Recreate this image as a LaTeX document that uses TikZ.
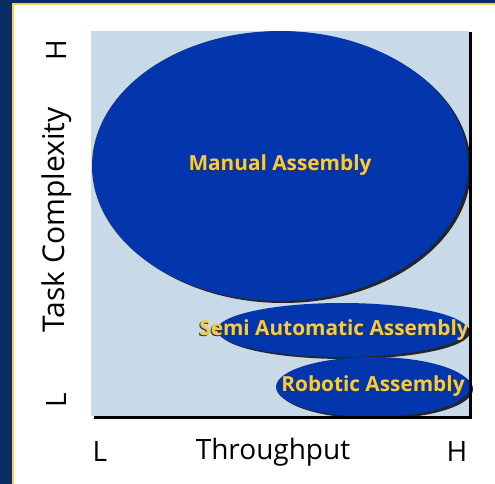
\documentclass[tikz,border=0pt]{standalone}
\usepackage{fontspec}
\setmainfont{Open Sans}
\usetikzlibrary{shapes.geometric}
\definecolor{navy}{HTML}{0B2D66}
\definecolor{panelyellow}{HTML}{F2D15A}
\definecolor{plotbg}{HTML}{C8D9E7}
\definecolor{blob}{HTML}{0335AD}
\definecolor{labelyellow}{HTML}{F3CB4A}
\tikzset{
  blobshape/.style={ellipse, fill=blob, inner sep=0pt, draw=none},
  blobshadow/.style={ellipse, fill=black!85, inner sep=0pt, draw=none},
  blobtext/.style={text=labelyellow, font=\fontsize{20.8}{24}\selectfont\bfseries, inner sep=0pt},
  blobtextshadow/.style={text=black!80, font=\fontsize{20.8}{24}\selectfont\bfseries, inner sep=0pt},
  axistext/.style={text=black, font=\fontsize{28}{32}\selectfont, inner sep=0pt},
  axistextlong/.style={text=black, font=\fontsize{30}{34}\selectfont, inner sep=0pt},
  axisline/.style={draw=black, line width=3pt}
}
\begin{document}
\begin{tikzpicture}[x=1pt,y=-1pt]
\useasboundingbox (0,0) rectangle (495,484);
% outer background
\fill[navy] (0,0) rectangle (495,484);
\fill[panelyellow] (11.5,3) rectangle (495,484);
\fill[white] (13.5,5.5) rectangle (495,484);
% plot area
\fill[plotbg] (91,31) rectangle (469,416);
% ellipses with shadows
\node[blobshadow, minimum width=376pt, minimum height=270pt] (manshadow) at (283,168) {};
\node[blobshape, minimum width=376pt, minimum height=270pt] (manual) at (280,166) {};
\node[blobshadow, minimum width=250pt, minimum height=54pt] (semishadow) at (345,332) {};
\node[blobshape, minimum width=250pt, minimum height=54pt] (semi) at (342,330) {};
\node[blobshadow, minimum width=194pt, minimum height=60pt] (robshadow) at (376,389) {};
\node[blobshape, minimum width=194pt, minimum height=60pt] (robotic) at (373,387) {};
% axes
\draw[axisline] (470.5,32) -- (470.5,418.5);
\draw[axisline] (94,417.5) -- (472,417.5);
% labels in ellipses
\node[blobtextshadow] (manualts) at (279,166) {Manual Assembly};
\node[blobtext] (manualt) at (280,165) {Manual Assembly};
\node[blobtextshadow] (semits) at (333,331) {Semi Automatic Assembly};
\node[blobtext] (semit) at (334,330) {Semi Automatic Assembly};
\node[blobtextshadow] (robotts) at (372,387) {Robotic Assembly};
\node[blobtext] (robott) at (373,386) {Robotic Assembly};
% axis labels
\node[axistextlong, rotate=90] (ylabel) at (57,220) {Task Complexity};
\node[axistext, rotate=90] (yhigh) at (57,50) {H};
\node[axistext, rotate=90] (ylow) at (57,400) {L};
\node[axistext] (xlabel) at (273,452) {Throughput};
\node[axistext] (xlow) at (100,452) {L};
\node[axistext] (xhigh) at (457,452) {H};
\end{tikzpicture}
\end{document}
